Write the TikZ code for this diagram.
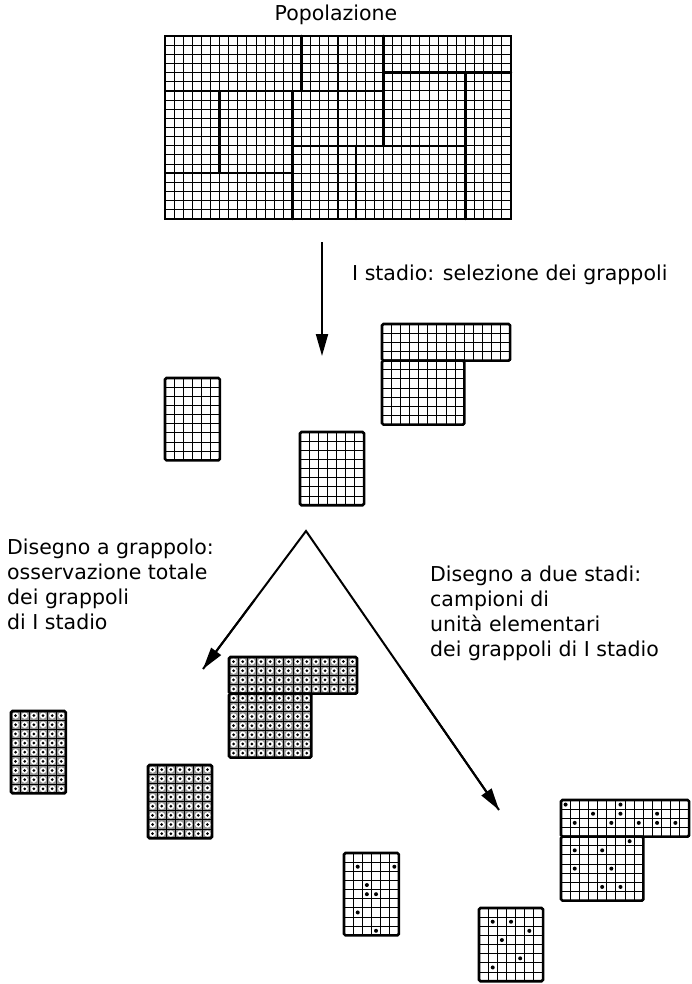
\documentclass[tikz,border=0pt]{standalone}
\usepackage{fontspec}
\setmainfont{DejaVu Sans}
\usetikzlibrary{arrows.meta,calc}
\tikzset{
  cellline/.style={line width=1.05pt},
  outline/.style={line width=2.6pt, rounded corners=1.5pt},
  region/.style={line width=2.5pt, line cap=round},
  arrowline/.style={line width=2pt, -{Triangle[length=22pt,width=12pt]}},
  txt/.style={font=\fontsize{20.5}{25}\selectfont, inner sep=0pt},
  lbl/.style={txt, anchor=north west, align=left},
  shade/.style={fill=black!42, draw=none},
}
\newcommand\cellgrid[2]{%
  \foreach \i in {1,...,#1}{\draw[cellline] (\i,0) -- (\i,#2);}%
  \foreach \j in {1,...,#2}{\draw[cellline] (0,\j) -- (#1,\j);}%
}
\newcommand\shadecells[2]{%
  \fill[shade] (0,0) rectangle (#1,#2);%
  \pgfmathtruncatemacro\ncm{#1-1}\pgfmathtruncatemacro\nrm{#2-1}%
  \foreach \i in {0,...,\ncm}{\foreach \j in {0,...,\nrm}{%
    \fill[white] (\i+0.5,\j+0.5) circle (3.2pt);
    \fill[black] (\i+0.5,\j+0.5) circle (1.5pt);}}%
}
\newcommand\sdot[2]{\fill[white] (#1+0.5,#2+0.5) circle (3pt);\fill[black] (#1+0.5,#2+0.5) circle (2pt);}
% a rectangular cluster: x0 y0 ncols nrows
\newcommand\plainbox[4]{%
  \begin{scope}[shift={(#1,#2)}, x=9.15pt, y=-9.15pt]
    \cellgrid{#3}{#4}\draw[outline] (0,0) rectangle (#3,#4);
  \end{scope}}
\newcommand\shadedbox[4]{%
  \begin{scope}[shift={(#1,#2)}, x=9.15pt, y=-9.15pt]
    \shadecells{#3}{#4}\cellgrid{#3}{#4}\draw[outline] (0,0) rectangle (#3,#4);
  \end{scope}}
\begin{document}
\begin{tikzpicture}[x=1pt, y=-1pt]
\useasboundingbox (0,0) rectangle (692,984);
% ---------- population ----------
\node[txt] (pop) at (336,15) {Popolazione};
\begin{scope}[shift={(165,36)}, x=9.105pt, y=-9.15pt]
  \cellgrid{38}{20}
  \draw[region] (0,6) -- (24,6);
  \draw[region] (15,0) -- (15,6);
  \draw[region] (24,0) -- (24,12);
  \draw[region] (24,4) -- (38,4);
  \draw[region] (33,4) -- (33,20);
  \draw[region] (14,12) -- (33,12);
  \draw[region] (6,6) -- (6,15);
  \draw[region] (0,15) -- (14,15);
  \draw[region] (14,6) -- (14,20);
  \draw[region] (21,12) -- (21,20);
  \draw[line width=2.6pt] (0,0) rectangle (38,20);
\end{scope}
% ---------- stage I arrow ----------
\coordinate (vtop) at (322,242);
\coordinate (vtip) at (322,356);
\draw[arrowline] (vtop) -- (vtip);
\node[txt, anchor=west] (stage) at (352,275) {I stadio: selezione dei grappoli};
% ---------- stage I clusters ----------
\plainbox{165}{378}{6}{9}
\plainbox{300}{432}{7}{8}
\plainbox{382}{324}{14}{4}
\plainbox{382}{360.6}{9}{7}
% ---------- branching arrows ----------
\coordinate (apex) at (306,531);
\coordinate (ltip) at (203,669);
\coordinate (rtip) at (499,810);
\draw[line width=2pt] (ltip) -- (apex) -- (rtip);
\draw[arrowline] ($(apex)!0.5!(ltip)$) -- (ltip);
\draw[arrowline] ($(apex)!0.5!(rtip)$) -- (rtip);
\node[lbl] (left) at (7,539) {Disegno a grappolo:\\osservazione totale\\dei grappoli\\di I stadio};
\node[lbl] (right) at (430,566) {Disegno a due stadi:\\campioni di\\unità elementari\\dei grappoli di I stadio};
% ---------- cluster design (total observation) ----------
\shadedbox{11}{711}{6}{9}
\shadedbox{148}{765}{7}{8}
\shadedbox{229}{657}{14}{4}
\shadedbox{229}{693.6}{9}{7}
% ---------- two-stage design ----------
\begin{scope}[shift={(344,853)}, x=9.15pt, y=-9.15pt]
  \cellgrid{6}{9}
  \sdot{1}{1}\sdot{5}{1}\sdot{2}{3}\sdot{2}{4}\sdot{3}{4}\sdot{1}{6}\sdot{3}{8}
  \draw[outline] (0,0) rectangle (6,9);
\end{scope}
\begin{scope}[shift={(479,908)}, x=9.15pt, y=-9.15pt]
  \cellgrid{7}{8}
  \sdot{1}{1}\sdot{3}{1}\sdot{5}{2}\sdot{2}{3}\sdot{4}{5}\sdot{1}{6}
  \draw[outline] (0,0) rectangle (7,8);
\end{scope}
\begin{scope}[shift={(561,800)}, x=9.15pt, y=-9.15pt]
  \cellgrid{14}{4}
  \sdot{0}{0}\sdot{6}{0}\sdot{3}{1}\sdot{6}{1}\sdot{10}{1}
  \sdot{1}{2}\sdot{5}{2}\sdot{8}{2}\sdot{10}{2}\sdot{12}{2}
  \draw[outline] (0,0) rectangle (14,4);
\end{scope}
\begin{scope}[shift={(561,836.6)}, x=9.15pt, y=-9.15pt]
  \cellgrid{9}{7}
  \sdot{7}{0}\sdot{1}{1}\sdot{4}{1}\sdot{1}{3}\sdot{5}{3}\sdot{4}{5}\sdot{6}{5}
  \draw[outline] (0,0) rectangle (9,7);
\end{scope}
\end{tikzpicture}
\end{document}
